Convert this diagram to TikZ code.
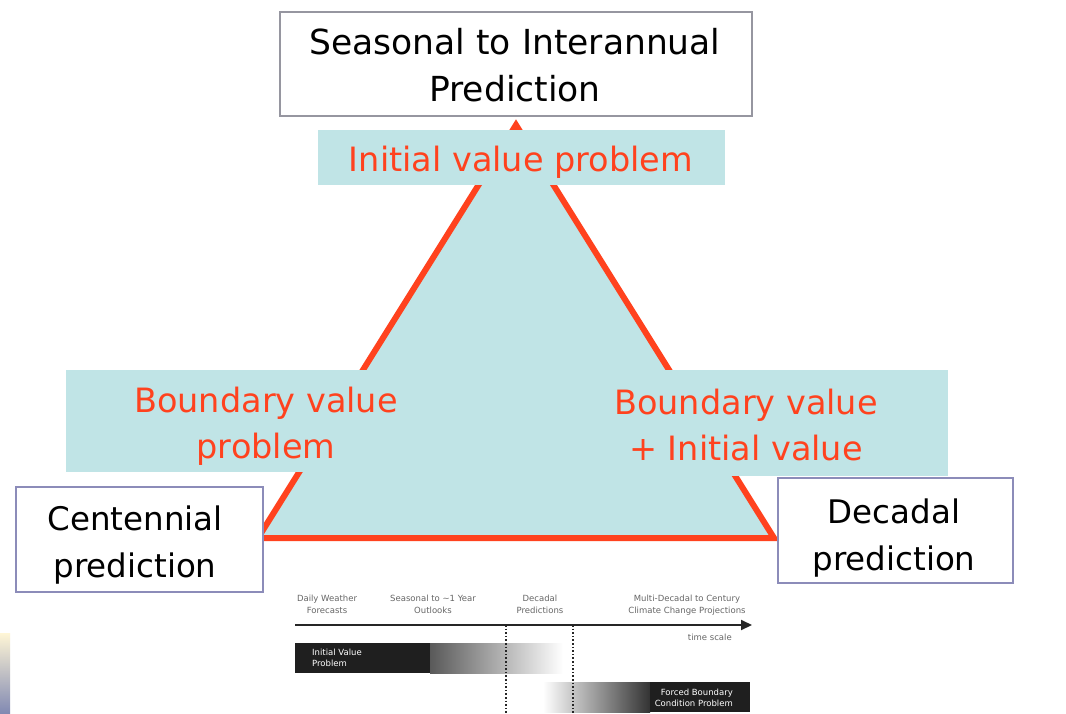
\documentclass[tikz,border=0pt]{standalone}
\usepackage{fontspec}
\setmainfont{DejaVu Sans}
\usetikzlibrary{arrows.meta}
\definecolor{tri}{RGB}{255,66,30}
\definecolor{cyanbg}{RGB}{192,228,230}
\definecolor{boxline}{RGB}{140,140,185}
\definecolor{topline}{RGB}{150,150,160}
\definecolor{stripA}{RGB}{255,246,214}
\definecolor{stripB}{RGB}{238,200,196}
\definecolor{stripC}{RGB}{128,136,178}
\begin{document}
\begin{tikzpicture}[x=1pt,y=-1pt,
  frame/.style={draw=boxline,line width=1.2pt,fill=white,inner sep=0pt,minimum width=#1},
  bigtxt/.style={align=center,anchor=base,inner sep=0pt,text=black,font=\fontsize{34.5}{47}\selectfont},
  sidetxt/.style={align=center,anchor=base,inner sep=0pt,text=black,font=\fontsize{32.5}{47}\selectfont},
  redtxt/.style={align=center,anchor=base,inner sep=0pt,text=tri,font=\fontsize{33.5}{46}\selectfont},
  smalltxt/.style={align=center,anchor=base,inner sep=0pt,text=black!60,font=\fontsize{8.5}{12}\selectfont},
  bartxt/.style={inner sep=0pt,text=white,font=\fontsize{8.5}{11}\selectfont},
  triline/.style={draw=tri,line width=6pt,line join=miter}
]
\useasboundingbox (0,0) rectangle (1066,714);
\fill[white] (0,0) rectangle (1066,714);

% triangle
\fill[cyanbg] (516,125) -- (258,538) -- (774,538) -- cycle;
\draw[triline] (516,125) -- (258,538) -- (774,538) -- cycle;

% cyan label backgrounds
\fill[cyanbg] (318,130) rectangle (725,185);
\fill[cyanbg] (66,370) rectangle (413,472);
\fill[cyanbg] (580,370) rectangle (948,476);

% frames
\node[frame=472pt,draw=topline,minimum height=104pt] (topbox) at (516,64) {};
\node[frame=247pt,minimum height=105pt] (centbox) at (139.5,539.5) {};
\node[frame=235pt,minimum height=105pt] (decbox) at (895.5,530.5) {};

% texts (base anchor = baseline of last line)
\node[bigtxt] (toptext) at (515,102) {Seasonal to Interannual\\Prediction};
\node[redtxt] (ivp) at (521,172) {Initial value problem};
\node[redtxt] (bvp) at (266,458) {Boundary value\\problem};
\node[redtxt] (bvpiv) at (746,460) {Boundary value\\+ Initial value};
\node[sidetxt] (centtext) at (135,577) {Centennial\\prediction};
\node[sidetxt] (dectext) at (894,570) {Decadal\\prediction};

% small time scale graphic
\node[smalltxt] (daily) at (327,613) {Daily Weather\\Forecasts};
\node[smalltxt] (seas) at (433,613) {Seasonal to \textasciitilde1 Year\\Outlooks};
\node[smalltxt] (decp) at (540,613) {Decadal\\Predictions};
\node[smalltxt] (multi) at (687,613) {Multi-Decadal to Century\\Climate Change Projections};
\coordinate (axstart) at (295,625);
\coordinate (axend) at (752,625);
\draw[line width=2pt,black!85,-{Triangle[length=11pt,width=10pt]}] (axstart) -- (axend);
\node[smalltxt,anchor=base east] (tscale) at (732,640) {time scale};

% bars
\fill[black!88] (295,643) rectangle (430,673);
\shade[left color=black!65,right color=white] (430,643) rectangle (563,673);
\shade[left color=white,right color=black!80] (543,682) rectangle (650,712);
\fill[black!88] (650,682) rectangle (750,712);
\node[bartxt,align=left,anchor=base west] (ivpbar) at (312,666) {Initial Value\\Problem};
\node[bartxt,align=right,anchor=base east] (fbbar) at (733,706) {Forced Boundary\\Condition Problem};

% dotted separators
\coordinate (d1t) at (506,625);
\coordinate (d1b) at (506,714);
\coordinate (d2t) at (573,625);
\coordinate (d2b) at (573,714);
\draw[black!85,line width=1.6pt,dotted] (d1t) -- (d1b);
\draw[black!85,line width=1.6pt,dotted] (d2t) -- (d2b);

% left edge strip
\shade[top color=stripA,middle color=stripB,bottom color=stripC] (0,633) rectangle (10,714);
\end{tikzpicture}
\end{document}
